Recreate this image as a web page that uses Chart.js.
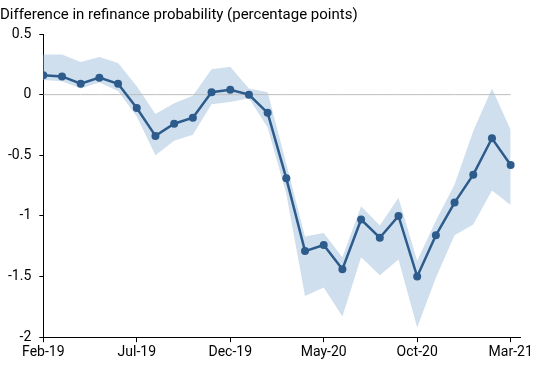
<!DOCTYPE html>
<html>
<head>
<meta charset="utf-8">
<script src="https://cdn.jsdelivr.net/npm/chart.js@4"></script>
<style>
  body { margin: 0; background: #fff; }
  #wrap { width: 550px; height: 365px; }
</style>
</head>
<body>
<div id="wrap"><canvas id="refiChart" width="550" height="365"></canvas></div>
<script>
// monthly categories, Feb-19 .. Mar-21
var months = ["Feb-19","Mar-19","Apr-19","May-19","Jun-19","Jul-19","Aug-19","Sep-19","Oct-19","Nov-19","Dec-19",
	"Jan-20","Feb-20","Mar-20","Apr-20","May-20","Jun-20","Jul-20","Aug-20","Sep-20","Oct-20","Nov-20","Dec-20",
	"Jan-21","Feb-21","Mar-21"];
// point estimate
var diffValues = [0.16,0.15,0.09,0.14,0.09,-0.11,-0.34,-0.24,-0.19,0.02,0.04,0.00,-0.15,-0.69,-1.29,-1.24,-1.44,-1.03,-1.18,-1.00,-1.50,-1.16,-0.89,-0.66,-0.36,-0.58];
// confidence band
var upperValues = [0.33,0.33,0.27,0.31,0.26,0.07,-0.16,-0.07,-0.01,0.21,0.23,0.05,0.02,-0.57,-1.17,-1.14,-1.34,-0.92,-1.08,-0.85,-1.37,-1.04,-0.74,-0.30,0.05,-0.29];
var lowerValues = [0.12,0.11,0.05,0.10,0.03,-0.18,-0.50,-0.38,-0.33,-0.08,-0.06,-0.03,-0.27,-0.82,-1.66,-1.59,-1.83,-1.34,-1.49,-1.36,-1.92,-1.51,-1.16,-1.07,-0.79,-0.91];
var yTicks = [0.5,0,-0.5,-1,-1.5,-2];

function pts(arr)
{
	return arr.map(function(v, i){ return {x: i, y: v}; });
}

var lineColor = "#2d5b8b";
var bandColor = "#cfdfee";

var refiChart = new Chart("refiChart",
{
	type: "line",
	data:
	{
		datasets:
		[{
			data: pts(diffValues),
			borderColor: lineColor,
			backgroundColor: lineColor,
			borderWidth: 2.5,
			pointRadius: 4,
			pointBorderWidth: 0,
			tension: 0,
			fill: false
		},{
			data: pts(diffValues.map(function(){ return 0; })),
			borderColor: "#bdbdbd",
			borderWidth: 1,
			pointRadius: 0,
			fill: false
		},{
			data: pts(upperValues),
			borderWidth: 0,
			borderColor: "rgba(0,0,0,0)",
			pointRadius: 0,
			fill: false
		},{
			data: pts(lowerValues),
			borderWidth: 0,
			borderColor: "rgba(0,0,0,0)",
			backgroundColor: bandColor,
			pointRadius: 0,
			fill: "-1"
		}]
	},
	options:
	{
		responsive: false,
		animation: false,
		layout: { padding: { left: 0, right: 30, top: 0, bottom: 2 } },
		plugins:
		{
			legend: { display: false },
			tooltip: { enabled: false },
			title:
			{
				display: true,
				text: "Difference in refinance probability (percentage points)",
				align: "start",
				color: "#000",
				font: { family: "Roboto", size: 15, weight: "normal" },
				padding: { top: 6, bottom: 10 }
			}
		},
		scales:
		{
			x:
			{
				type: "linear",
				min: 0,
				max: 25.5,
				border: { display: true, color: "#000", width: 1 },
				grid: { display: true, drawOnChartArea: false, drawTicks: true, tickLength: 5, color: "#000" },
				ticks:
				{
					stepSize: 5,
					includeBounds: false,
					autoSkip: false,
					maxRotation: 0,
					padding: 2,
					color: "#000",
					font: { family: "Roboto", size: 14 },
					callback: function(v){ return months[v]; }
				}
			},
			y:
			{
				min: -2,
				max: 0.5,
				afterBuildTicks: function(axis){ axis.ticks = yTicks.map(function(v){ return {value: v}; }); },
				border: { display: true, color: "#000", width: 1 },
				grid: { display: true, drawOnChartArea: false, drawTicks: true, tickLength: 4, color: "#000" },
				ticks:
				{
					padding: 8,
					color: "#000",
					font: { family: "Roboto", size: 14 },
					callback: function(v){ return String(v); }
				}
			}
		}
	}
});
</script>
</body>
</html>
